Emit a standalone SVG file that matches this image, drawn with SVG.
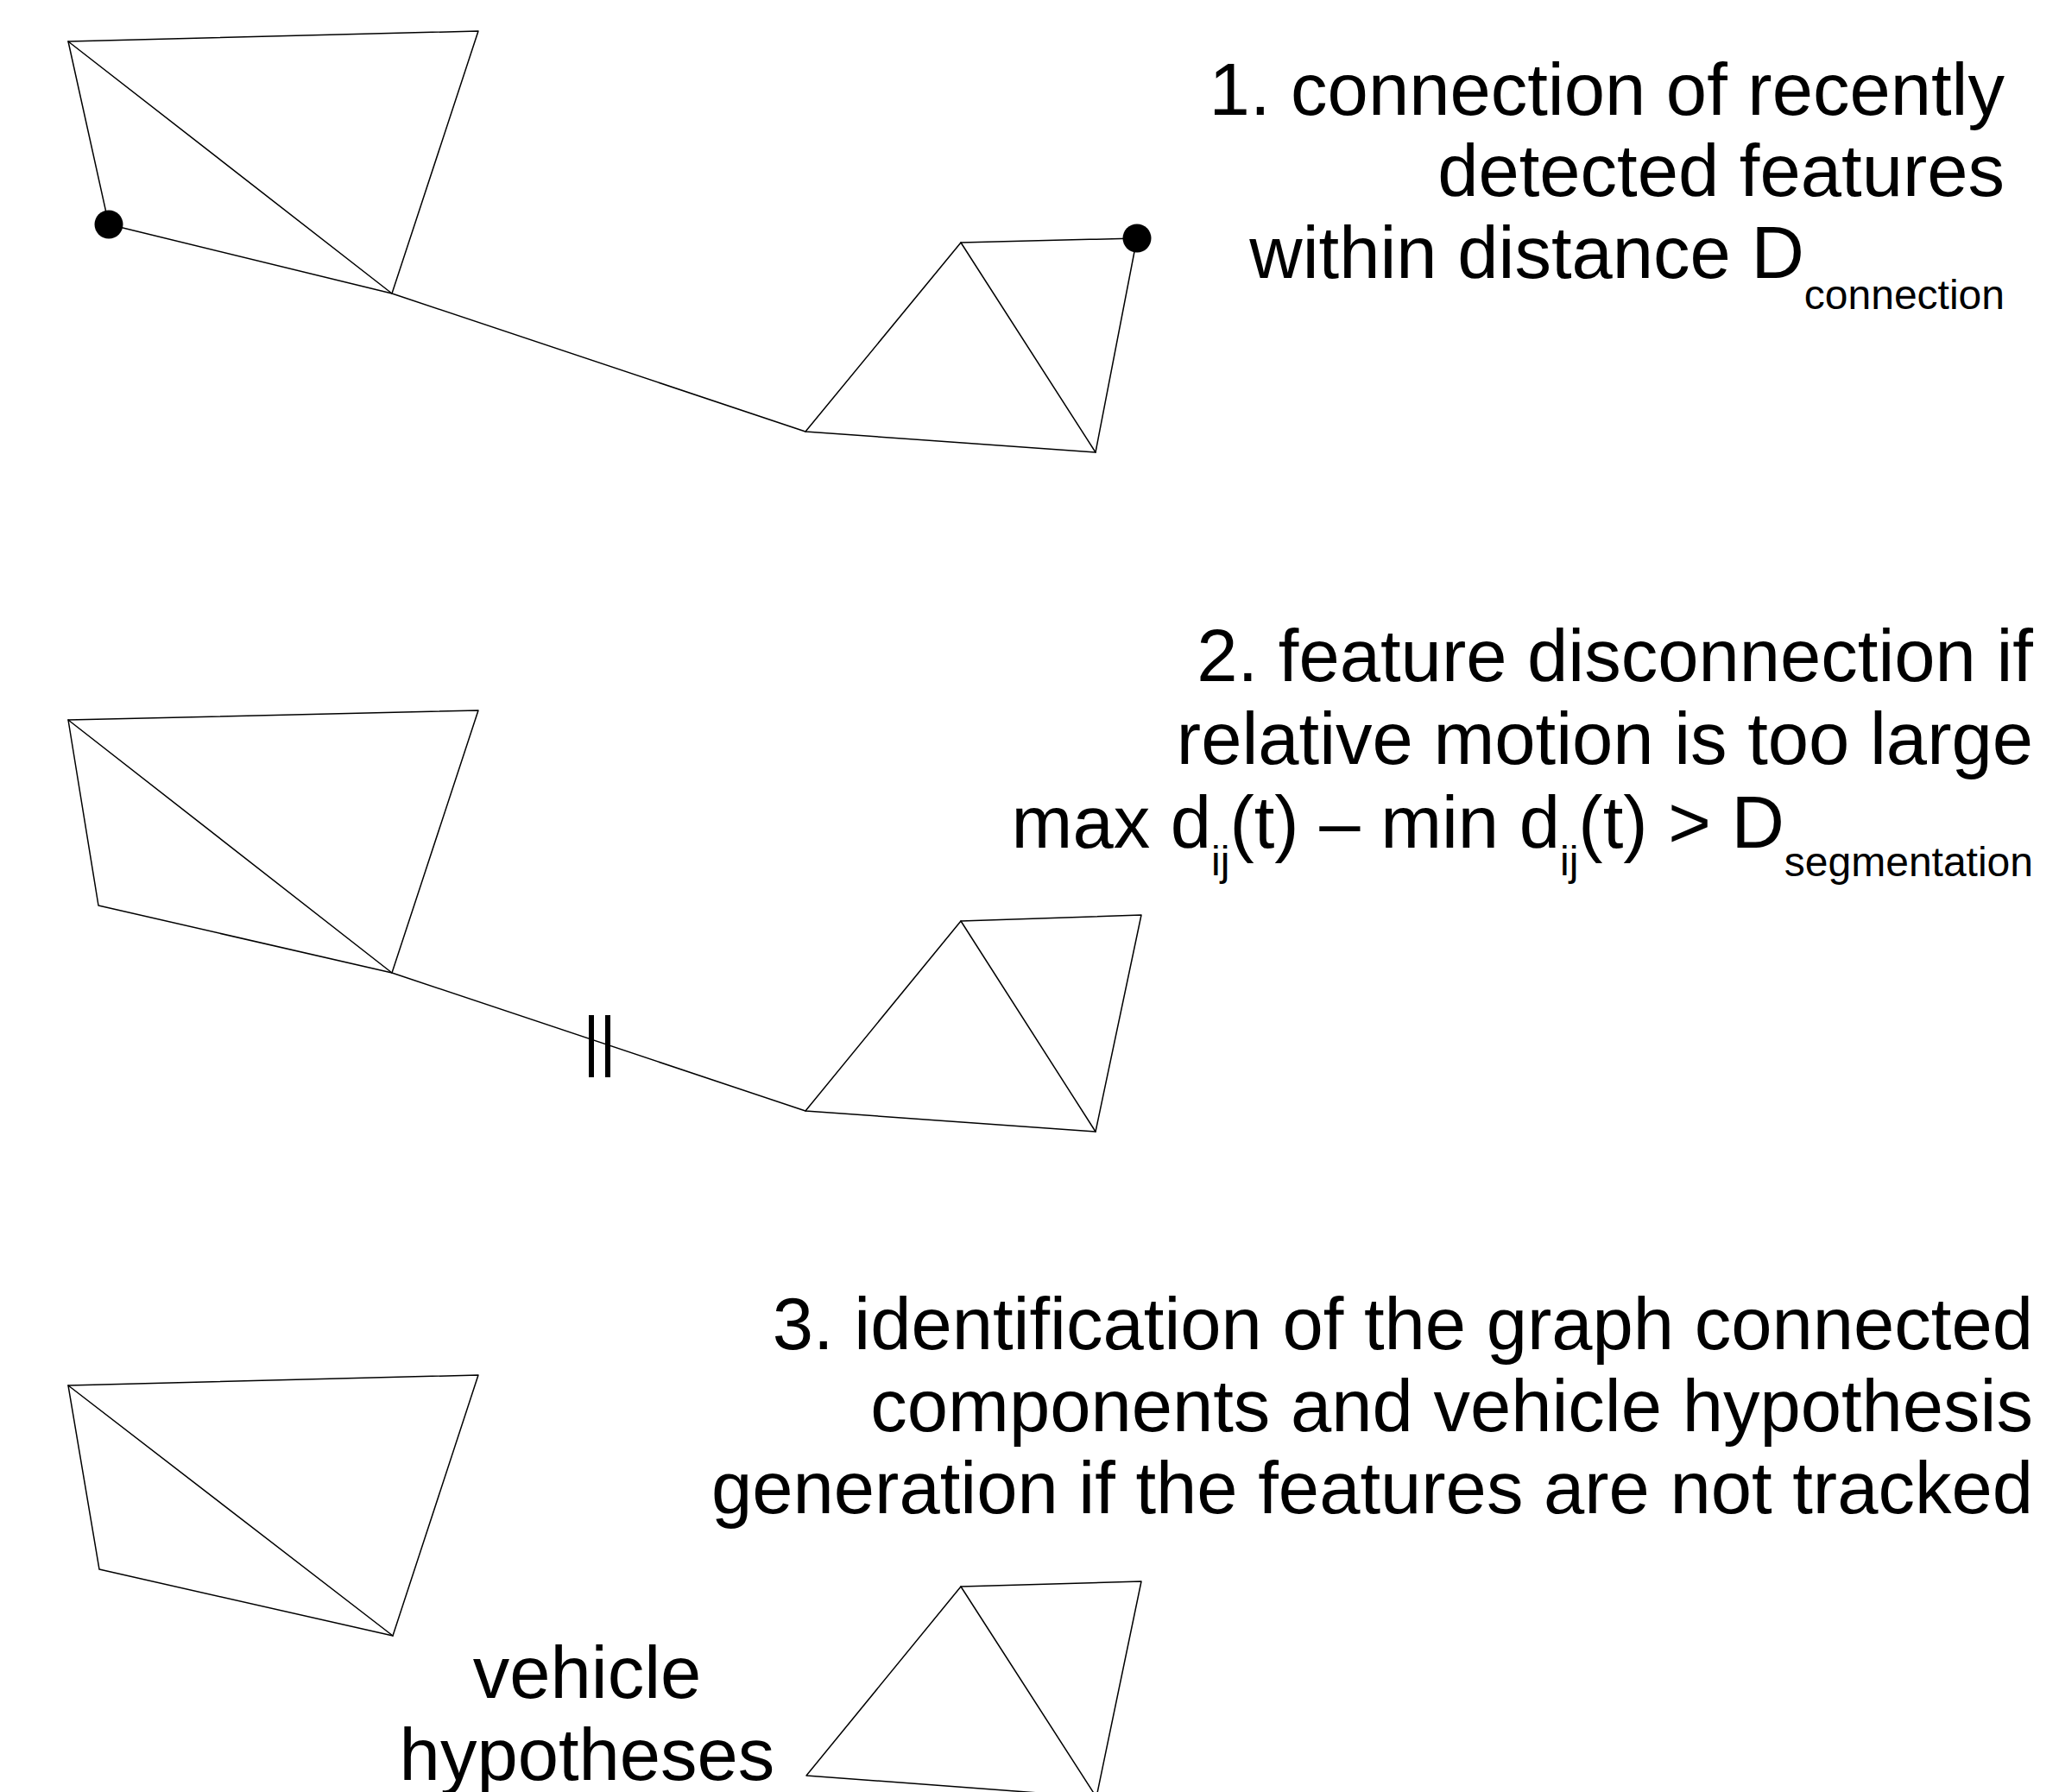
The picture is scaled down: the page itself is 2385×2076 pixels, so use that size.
<svg xmlns="http://www.w3.org/2000/svg" width="2385" height="2076" viewBox="0 0 2385 2076">
<style>
.e{stroke:#000;stroke-width:1.5;fill:none;stroke-linecap:round;stroke-linejoin:round}
.t{font-family:"Liberation Sans",Arial,sans-serif;font-size:85px;fill:#000}
.s{font-size:48px}
.dot{fill:#000}
.bar{stroke:#000;stroke-width:6}
</style>
<rect width="2385" height="2076" fill="#fff"/>

<!-- Panel 1 -->
<g id="panel1">
  <g id="p1-left">
    <polyline class="e" points="126,260 79,48 554,36 454,340 126,260"/>
    <line class="e" x1="79" y1="48" x2="454" y2="340"/>
    <ellipse class="dot" cx="126" cy="260" rx="16.5" ry="16.5"/>
  </g>
  <g id="p1-right">
    <polyline class="e" points="933,500 1113,281 1317,276 1269,524 933,500"/>
    <line class="e" x1="1113" y1="281" x2="1269" y2="524"/>
    <ellipse class="dot" cx="1317" cy="276" rx="16.5" ry="16.5"/>
  </g>
  <g id="p1-connectors">
    <line class="e" x1="454" y1="340" x2="933" y2="500"/>
  </g>
  <text class="t" text-anchor="end"><tspan x="2322" y="133">1. connection of recently</tspan><tspan x="2322" y="227">detected features</tspan></text>
  <text class="t" text-anchor="end" x="2322" y="322">within distance D<tspan class="s" dy="36">connection</tspan></text>
</g>

<!-- Panel 2 -->
<g id="panel2">
  <g id="p2-left">
    <polygon class="e" points="79,834 554,823 454,1127 114,1049"/>
    <line class="e" x1="79" y1="834" x2="454" y2="1127"/>
  </g>
  <g id="p2-right">
    <polygon class="e" points="933,1287 1113,1067 1322,1060 1269,1311"/>
    <line class="e" x1="1113" y1="1067" x2="1269" y2="1311"/>
  </g>
  <g id="p2-connectors">
    <line class="e" x1="454" y1="1127" x2="933" y2="1287"/>
    <line class="bar" x1="685" y1="1176" x2="685" y2="1248"/>
    <line class="bar" x1="704" y1="1176" x2="704" y2="1248"/>
  </g>
  <text class="t" text-anchor="end"><tspan x="2355" y="789">2. feature disconnection if</tspan><tspan x="2355" y="885">relative motion is too large</tspan></text>
  <text class="t" text-anchor="end" x="2355" y="982">max d<tspan class="s" dy="32">ij</tspan><tspan dy="-32">(t) – min d</tspan><tspan class="s" dy="32">ij</tspan><tspan dy="-32">(t) &gt; D</tspan><tspan class="s" dy="33">segmentation</tspan></text>
</g>

<!-- Panel 3 -->
<g id="panel3">
  <g id="p3-left">
    <polygon class="e" points="79,1605 554,1593 455,1895 115,1818"/>
    <line class="e" x1="79" y1="1605" x2="455" y2="1895"/>
  </g>
  <g id="p3-right">
    <polygon class="e" points="934,2057 1113,1838 1322,1832 1270,2082"/>
    <line class="e" x1="1113" y1="1838" x2="1270" y2="2082"/>
  </g>
  <text class="t" text-anchor="end"><tspan x="2355" y="1563">3. identification of the graph connected</tspan><tspan x="2355" y="1658">components and vehicle hypothesis</tspan><tspan x="2355" y="1753">generation if the features are not tracked</tspan></text>
  <text class="t" text-anchor="middle"><tspan x="680" y="1967">vehicle</tspan><tspan x="680" y="2062">hypotheses</tspan></text>
</g>
</svg>
